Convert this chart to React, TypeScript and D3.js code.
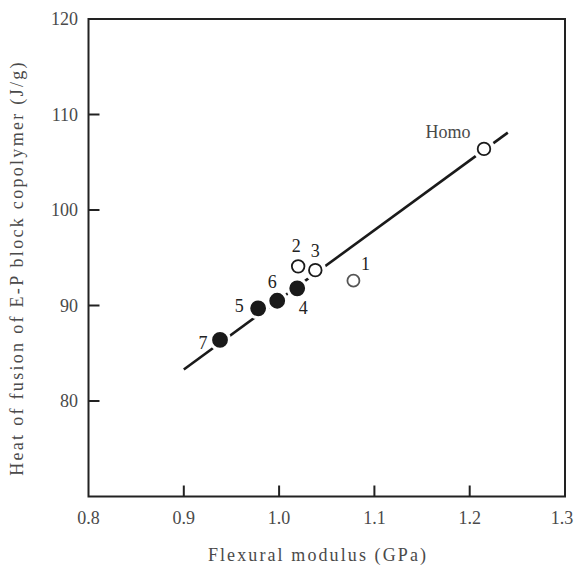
import React from "react";
import * as d3 from "d3";

// Samples: flexural modulus (GPa) vs heat of fusion of the E-P block copolymer (J/g)
const sampleLabels = ["Homo", "1", "2", "3", "4", "5", "6", "7"];
const modulus = [1.215, 1.078, 1.02, 1.038, 1.019, 0.978, 0.998, 0.938];
const heatOfFusion = [106.4, 92.6, 94.1, 93.7, 91.8, 89.7, 90.5, 86.4];
const filled = [false, false, false, false, true, true, true, true];

// Trend line endpoints
const trendX = [0.9, 1.24];
const trendY = [83.3, 108.1];

const xTicks = [0.8, 0.9, 1.0, 1.1, 1.2, 1.3];
const xTickLabels = ["0.8", "0.9", "1.0", "1.1", "1.2", "1.3"];
const yTicks = [80, 90, 100, 110, 120];

const W = 574;
const H = 571;
const left = 88.5;
const right = 565;
const top = 19;
const bottom = 496.5;

// label offsets per sample, in px relative to the marker
const labelDx = [-36, 12, -2, 0, 6, -19, -5, -17];
const labelDy = [-17, -17, -20, -19, 20, -2, -19, 3];

const FONT = "'Liberation Serif', 'Times New Roman', 'DejaVu Serif', serif";

export default function App() {
  const x = d3.scaleLinear().domain([0.8, 1.3]).range([left, right]);
  const y = d3.scaleLinear().domain([70, 120]).range([bottom, top]);
  const line = d3
    .line<number>()
    .x((_, i) => x(trendX[i]))
    .y((_, i) => y(trendY[i]));
  const textColor = "#4a4a4a";
  const ts = (size: number): React.CSSProperties => ({ fontFamily: FONT, fontSize: size });

  return (
    <svg
      width={W}
      height={H}
      style={{ position: "absolute", left: 0, top: 0, background: "#fff" }}
    >
      <rect x={0} y={0} width={W} height={H} fill="#fff" />
      {/* trend line */}
      <path d={line([0, 1]) ?? ""} stroke="#1a1a1a" strokeWidth={2.6} fill="none" />
      {/* white halos break the line around each marker */}
      {modulus.map((m, i) => (
        <circle key={"h" + i} cx={x(m)} cy={y(heatOfFusion[i])} r={11} fill="#fff" />
      ))}
      {modulus.map((m, i) => (
        <circle
          key={"p" + i}
          cx={x(m)}
          cy={y(heatOfFusion[i])}
          r={filled[i] ? 7 : i === 1 ? 6 : 6.3}
          fill={filled[i] ? "#1a1a1a" : "#fff"}
          stroke={i === 1 ? "#555" : "#1a1a1a"}
          strokeWidth={1.8}
        />
      ))}
      {sampleLabels.map((s, i) => (
        <text
          key={"l" + i}
          x={x(modulus[i]) + labelDx[i]}
          y={y(heatOfFusion[i]) + labelDy[i]}
          textAnchor="middle"
          dominantBaseline="central"
          style={ts(18)}
          fill={i === 0 ? textColor : "#222"}
        >
          {s}
        </text>
      ))}
      {/* frame */}
      <rect
        x={left}
        y={top}
        width={right - left}
        height={bottom - top}
        fill="none"
        stroke="#222"
        strokeWidth={2}
      />
      {/* x ticks */}
      {xTicks.map((t, i) => (
        <g key={"xt" + i}>
          {i > 0 && i < xTicks.length - 1 && (
            <line x1={x(t)} x2={x(t)} y1={bottom} y2={bottom - 11} stroke="#222" strokeWidth={2} />
          )}
          <text
            x={i === xTicks.length - 1 ? x(t) - 3 : x(t)}
            y={524}
            textAnchor="middle"
            style={ts(18)}
            fill={textColor}
          >
            {xTickLabels[i]}
          </text>
        </g>
      ))}
      {/* y ticks */}
      {yTicks.map((t, i) => (
        <g key={"yt" + i}>
          {t < 120 && (
            <line x1={left} x2={left + 11} y1={y(t)} y2={y(t)} stroke="#222" strokeWidth={2} />
          )}
          <text
            x={78}
            y={y(t)}
            textAnchor="end"
            dominantBaseline="central"
            style={ts(18)}
            fill={textColor}
          >
            {t}
          </text>
        </g>
      ))}
      {/* axis titles */}
      <text
        x={318}
        y={561}
        textAnchor="middle"
        style={{ ...ts(18), letterSpacing: 2.1 }}
        fill={textColor}
      >
        Flexural modulus (GPa)
      </text>
      <text
        transform={`translate(23, 268) rotate(-90)`}
        textAnchor="middle"
        style={{ ...ts(18), letterSpacing: 2.3 }}
        fill={textColor}
      >
        Heat of fusion of E-P block copolymer (J/g)
      </text>
    </svg>
  );
}
